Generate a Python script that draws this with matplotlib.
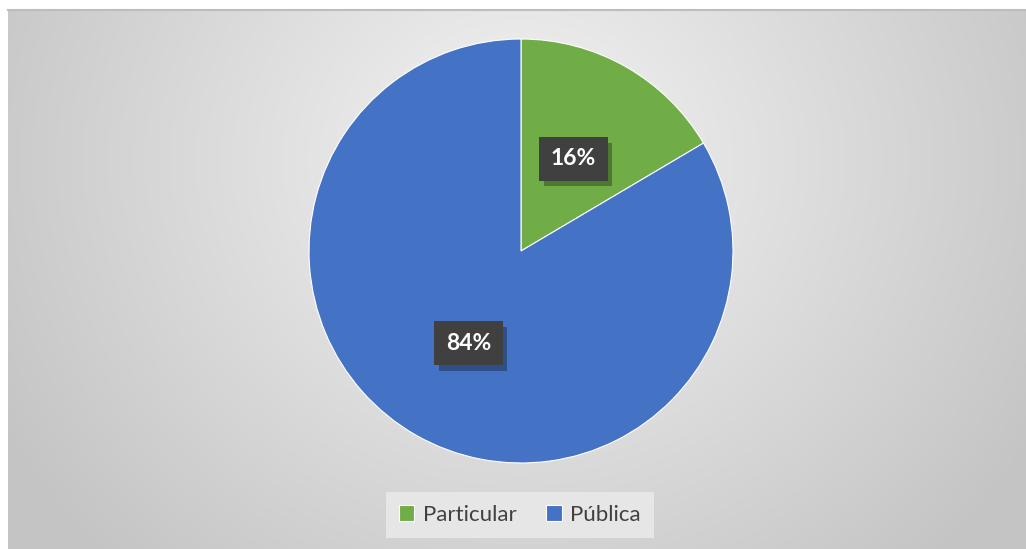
import numpy as np
import matplotlib.pyplot as plt
from matplotlib import patheffects

# data
categories = ["Particular", "Pública"]
shares = [16.5, 83.5]
colors = ["#70AD47", "#4472C4"]

W, H = 1026, 549
fig = plt.figure(figsize=(W / 100, H / 100), dpi=100)
fig.patch.set_facecolor("white")

# background panel with a radial grey gradient
bg = fig.add_axes([8 / W, 0, 1 - 8 / W, (H - 10) / H])
yy, xx = np.mgrid[0:540, 0:1018]
cx, cy = 512, 150
r = np.sqrt(((xx - cx) / 600.0) ** 2 + ((yy - cy) / 560.0) ** 2)
r = np.clip(r, 0, 1)
shade = 244 - 48 * r
img = np.dstack([shade, shade, shade]) / 255.0
bg.imshow(img, aspect="auto", interpolation="bilinear")
bg.set_axis_off()
fig.add_artist(plt.Line2D([8 / W, 1], [(H - 10) / H, (H - 10) / H],
                          color="#bdbdbd", lw=1.5, transform=fig.transFigure))

# pie
cx_px, cy_px, rad = 521, 251, 212
ax = fig.add_axes([(cx_px - rad) / W, (H - cy_px - rad) / H, 2 * rad / W, 2 * rad / H])
wedges, texts, autotexts = ax.pie(
    shares, colors=colors, startangle=90, counterclock=False,
    autopct=lambda p: f"{p:.0f}%", pctdistance=0.5,
    wedgeprops=dict(edgecolor="white", linewidth=0.8),
    textprops=dict(color="white", fontsize=16.5, fontweight="bold", family="Lato"))
for t in autotexts:
    t.set_bbox(dict(boxstyle="square,pad=0.5", fc="#404040", ec="none"))
    t.get_bbox_patch().set_path_effects([
        patheffects.SimplePatchShadow(offset=(3, -4), shadow_rgbFace="black", alpha=0.3),
        patheffects.Normal()])
    t.set_zorder(4)
ax.set_xlim(-1, 1)
ax.set_ylim(-1, 1)
ax.set_aspect("auto")
ax.set_axis_off()

# legend
leg = fig.legend(wedges, categories, loc="center", ncol=2,
                 bbox_to_anchor=(520 / W, (H - 515) / H),
                 frameon=True, fancybox=False, handlelength=0.7, handleheight=0.7,
                 handletextpad=0.4, columnspacing=1.3, borderpad=0.6,
                 prop=dict(family="Lato", size=16))
leg.get_frame().set_facecolor("#e6e6e6")
leg.get_frame().set_edgecolor("none")
leg.get_frame().set_alpha(1)
for txt in leg.get_texts():
    txt.set_color("#404040")

fig.savefig("out.png", dpi=100)
